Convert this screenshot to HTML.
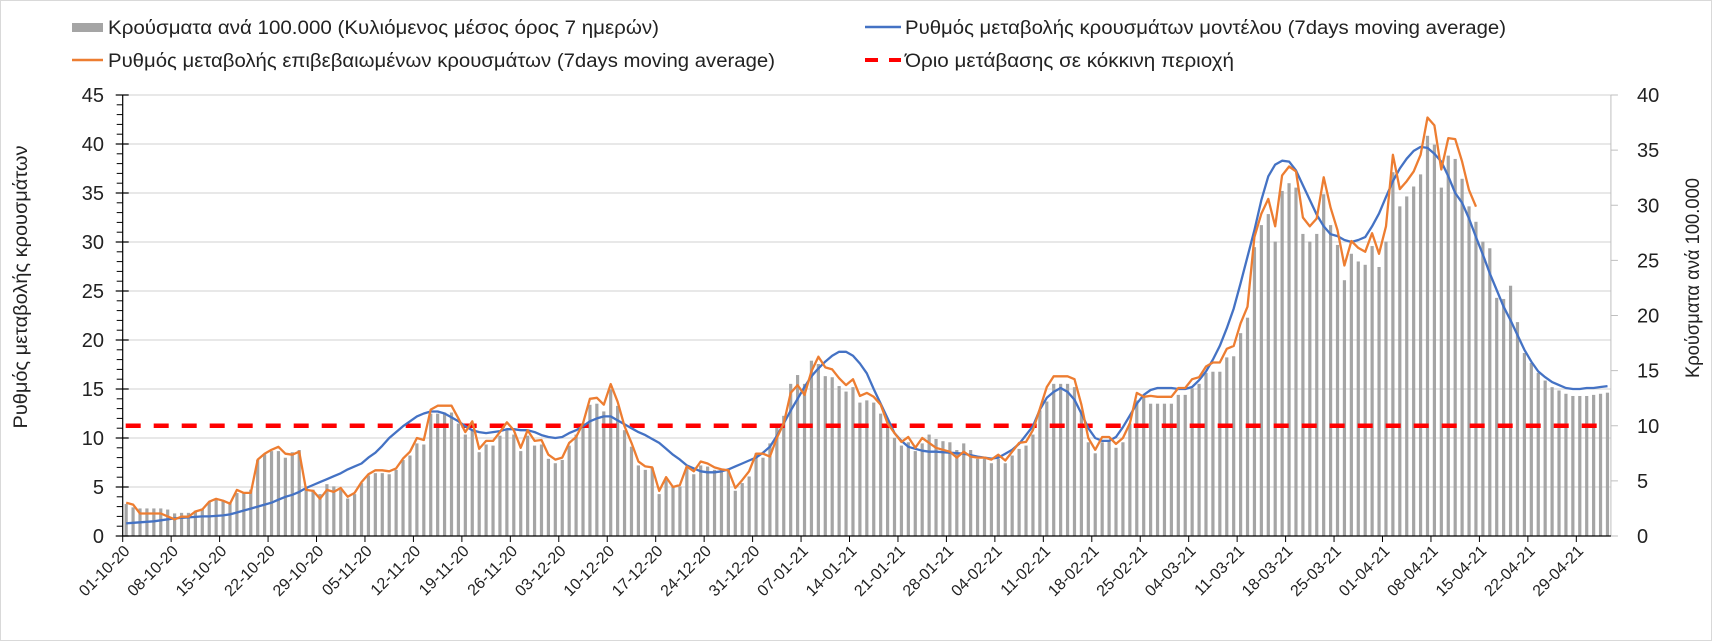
<!DOCTYPE html>
<html><head><meta charset="utf-8"><style>
html,body{margin:0;padding:0;background:#fff}
svg{display:block;font-family:"Liberation Sans",sans-serif}
</style></head><body>
<svg id="chart" width="1712" height="641" viewBox="0 0 1712 641" xmlns="http://www.w3.org/2000/svg">
<rect x="0.5" y="0.5" width="1711" height="640" fill="#fff" stroke="#d9d9d9"/>
<g id="grid"></g>
<g id="bars"></g>
<g id="lines"></g>
<g id="axes"></g>
<g>
  <g>
    <rect x="72" y="23" width="31" height="9" fill="#a5a5a5"/>
    <text x="108" y="34" font-size="19" textLength="551" lengthAdjust="spacingAndGlyphs" fill="#222">Κρούσματα ανά 100.000 (Κυλιόμενος μέσος όρος 7 ημερών)</text>
  </g>
  <g>
    <line x1="865" y1="27" x2="901" y2="27" stroke="#4472c4" stroke-width="2.5"/>
    <text x="905" y="34" font-size="19" textLength="601" lengthAdjust="spacingAndGlyphs" fill="#222">Ρυθμός μεταβολής κρουσμάτων μοντέλου (7days moving average)</text>
  </g>
  <g>
    <line x1="72" y1="60" x2="103" y2="60" stroke="#ed7d31" stroke-width="2.5"/>
    <text x="108" y="67" font-size="19" textLength="667" lengthAdjust="spacingAndGlyphs" fill="#222">Ρυθμός μεταβολής επιβεβαιωμένων κρουσμάτων (7days moving average)</text>
  </g>
  <g>
    <line x1="865" y1="60" x2="901" y2="60" stroke="#ff0000" stroke-width="4" stroke-dasharray="13,11"/>
    <text x="905" y="67" font-size="19" textLength="329" lengthAdjust="spacingAndGlyphs" fill="#222">Όριο μετάβασης σε κόκκινη περιοχή</text>
  </g>
</g>
<text transform="translate(27,287) rotate(-90)" text-anchor="middle" font-size="19" textLength="283" lengthAdjust="spacingAndGlyphs" fill="#222">Ρυθμός μεταβολής κρουσμάτων</text>
<text transform="translate(1699,278) rotate(-90)" text-anchor="middle" font-size="19" textLength="200" lengthAdjust="spacingAndGlyphs" fill="#222">Κρούσματα ανά 100.000</text>
</svg>
<script>
const xLabels = ["01-10-20","08-10-20","15-10-20","22-10-20","29-10-20","05-11-20","12-11-20","19-11-20","26-11-20","03-12-20","10-12-20","17-12-20","24-12-20","31-12-20","07-01-21","14-01-21","21-01-21","28-01-21","04-02-21","11-02-21","18-02-21","25-02-21","04-03-21","11-03-21","18-03-21","25-03-21","01-04-21","08-04-21","15-04-21","22-04-21","29-04-21"];
const leftTicks = [0,5,10,15,20,25,30,35,40,45];
const rightTicks = [0,5,10,15,20,25,30,35,40];
const redThreshold = 10;
const casesPer100k = [2.9,2.6,2.5,2.5,2.5,2.5,2.4,2.05,2.1,2.1,2.3,2.5,3.1,3.3,3.2,3.0,3.9,3.9,4.2,
6.9,7.4,7.7,7.7,7.1,7.6,7.8,4.5,4.2,3.8,4.7,4.5,4.2,3.4,3.8,4.8,5.5,5.7,5.7,5.6,6.0,6.9,7.3,8.4,8.3,11.1,11.1,11.2,11.2,10.2,9.2,9.6,7.6,8.3,8.2,9.1,9.6,9.2,7.7,9.1,8.2,8.3,7.0,6.6,6.9,8.2,
9.2,10.0,11.9,12.0,11.3,13.3,11.8,9.6,8.1,6.4,6.0,6.2,3.8,5.1,4.5,4.5,6.3,5.6,6.4,6.3,6.0,6.0,6.0,4.1,4.8,5.4,7.5,7.1,8.4,9.8,10.9,13.8,14.6,13.8,15.9,15.6,14.5,14.4,13.6,13.1,13.5,12.1,12.3,12.1,11.1,10.0,8.9,8.2,8.5,7.7,8.4,9.2,8.8,8.6,8.5,7.8,8.4,7.8,7.0,7.0,6.6,7.0,6.6,7.3,7.9,
8.2,9.2,11.4,12.2,13.8,13.8,13.8,13.5,11.4,8.5,7.5,8.5,8.7,8.0,8.5,10.2,12.3,12.7,12.0,12.0,12.0,12.0,12.8,12.8,13.4,13.8,14.8,14.9,14.9,16.2,16.3,18.4,19.8,26.2,28.2,29.2,26.7,31.3,32.0,31.6,27.4,26.7,27.4,31.0,28.2,26.4,23.2,25.6,24.9,24.6,26.3,24.4,26.7,33.0,29.9,30.8,31.7,32.8,36.3,35.5,31.6,34.5,34.2,32.4,29.9,28.5,
26.7,26.1,21.6,21.5,22.7,19.4,16.6,15.7,14.8,14.1,13.5,13.2,12.9,12.7,12.7,12.7,12.8,12.9,13.0];
const confirmedRate = [3.4,3.2,2.3,2.3,2.3,2.3,2.0,1.7,1.97,1.97,2.5,2.7,3.5,3.8,3.6,3.3,4.7,4.4,4.4,
7.8,8.4,8.8,9.1,8.4,8.3,8.6,4.7,4.6,3.8,4.7,4.5,4.9,4.0,4.4,5.5,6.3,6.7,6.7,6.6,6.9,7.9,8.6,10.0,9.8,12.9,13.3,13.3,13.3,12.0,10.6,11.7,8.9,9.7,9.7,10.6,11.6,10.8,9.0,10.8,9.7,9.8,8.3,7.8,8.0,9.5,
10.1,11.5,14.0,14.1,13.4,15.5,13.7,11.2,9.5,7.6,7.1,7.0,4.6,6.0,5.0,5.2,7.1,6.6,7.6,7.4,7.0,6.8,6.7,4.9,5.7,6.6,8.4,8.4,8.1,10.0,11.5,14.6,15.4,14.4,16.8,18.3,17.2,17.0,16.1,15.4,16.0,14.3,14.6,14.2,13.4,11.5,10.5,9.6,10.1,9.0,10.0,9.5,9.0,8.8,8.6,8.0,8.6,8.1,8.0,8.0,7.8,8.3,7.7,8.6,9.5,
9.6,10.8,13.0,15.2,16.3,16.3,16.3,16.0,13.4,10.0,8.8,10.1,10.1,9.4,10.0,11.5,14.6,14.2,14.3,14.2,14.2,14.2,15.1,15.1,16.0,16.2,17.3,17.7,17.7,19.1,19.4,21.7,23.4,30.5,32.9,34.4,31.6,36.8,37.7,37.2,32.5,31.6,32.4,36.6,33.5,31.2,27.6,30.1,29.4,29.0,30.9,28.8,31.6,38.9,35.4,36.2,37.2,38.9,42.7,41.9,37.4,40.6,40.5,38.2,35.3,33.6];
const modelRate = [1.3,1.35,1.4,1.45,1.5,1.6,1.7,1.8,1.85,1.9,1.95,2.0,2.0,2.05,2.1,2.2,2.4,2.6,2.8,3.0,3.2,3.4,
3.7,4.0,4.2,4.5,4.9,5.2,5.5,5.8,6.1,6.4,6.8,7.1,7.4,8.0,8.5,9.2,10.0,10.6,11.2,11.7,12.2,12.5,12.7,12.7,12.5,12.1,11.7,11.2,10.8,10.6,10.5,10.6,10.7,10.9,10.9,10.8,10.8,10.6,10.3,10.1,10.0,10.1,10.5,
10.8,11.2,11.7,12.0,12.2,12.2,11.8,11.4,11.0,10.6,10.3,9.9,9.5,8.9,8.3,7.8,7.2,6.9,6.6,6.5,6.5,6.6,6.8,7.1,7.4,7.7,8.0,8.5,9.1,10.2,11.5,12.8,14.0,15.2,16.3,17.1,17.8,18.4,18.8,18.8,18.4,17.6,16.6,15.0,13.5,12.0,10.5,9.7,9.1,8.9,8.7,8.6,8.6,8.55,8.5,8.45,8.4,8.25,8.1,8.0,7.9,8.0,8.4,8.8,9.4,
10.3,11.2,12.9,14.1,14.7,15.1,14.7,13.9,12.5,11.0,10.0,9.7,9.7,10.1,11.1,12.3,13.5,14.4,14.9,15.1,15.1,15.1,15.0,15.0,15.2,15.9,16.8,18.0,19.4,21.2,23.2,25.8,28.5,31.2,34.3,36.7,37.9,38.3,38.2,37.3,35.8,34.3,32.8,31.6,30.8,30.6,30.2,30.0,30.2,30.5,31.6,32.9,34.6,36.2,37.5,38.5,39.3,39.7,39.6,39.0,38.2,36.7,35.0,34.0,32.4,30.5,
28.7,26.8,25.1,23.4,22.0,20.5,19.0,17.8,16.8,16.2,15.7,15.4,15.1,15.0,15.0,15.1,15.1,15.2,15.3];

const NS = "http://www.w3.org/2000/svg";
const X0 = 122.7, DAY = 6.922, NDAYS = 215, BASE = 536;
const xCat = i => X0 + DAY * (i + 0.5);
const xTick = i => X0 + DAY * i;
const yL = v => BASE - v * 9.8;
const yR = v => BASE - v * 11.025;
function mk(tag, attrs, parent) {
  const e = document.createElementNS(NS, tag);
  for (const k in attrs) e.setAttribute(k, attrs[k]);
  parent.appendChild(e);
  return e;
}
const grid = document.getElementById('grid');
const bars = document.getElementById('bars');
const lines = document.getElementById('lines');
const axes = document.getElementById('axes');
const xEnd = X0 + DAY * NDAYS;

leftTicks.forEach(v => {
  if (v > 0) {
    const g = mk('line', {x1: X0, x2: xEnd, y1: yL(v), y2: yL(v), stroke: '#d9d9d9', 'stroke-width': 1.3}, grid);
    
    
  }
  const t = mk('text', {x: 104, y: yL(v) + 7, 'text-anchor': 'end', 'font-size': 20, fill: '#222'}, axes);
  t.textContent = v;
  
  
  mk('line', {x1: X0 - 7, x2: X0 + 6, y1: yL(v), y2: yL(v), stroke: '#000', 'stroke-width': 1.2}, axes);
});
for (let v = 1; v < 45; v++) {
  if (v % 5) mk('line', {x1: X0 - 6, x2: X0, y1: yL(v), y2: yL(v), stroke: '#000', 'stroke-width': 1}, axes);
}
rightTicks.forEach(v => {
  const t = mk('text', {x: 1637, y: yR(v) + 7, 'font-size': 20, fill: '#222'}, axes);
  t.textContent = v;
  
  
  mk('line', {x1: xEnd, x2: xEnd + 7, y1: yR(v), y2: yR(v), stroke: '#bfbfbf', 'stroke-width': 1}, axes);
});
mk('line', {x1: xEnd, x2: xEnd, y1: yR(40), y2: BASE, stroke: '#bfbfbf', 'stroke-width': 1}, axes);

casesPer100k.forEach((v, i) => {
  const b = mk('rect', {x: xCat(i) - 1.6, y: yR(v), width: 3.2, height: BASE - yR(v), fill: '#a5a5a5'}, bars);
  
  
});

const red = mk('line', {x1: X0 + 3, x2: xEnd - 3, y1: yR(redThreshold), y2: yR(redThreshold), stroke: '#ff0000', 'stroke-width': 4.5, 'stroke-dasharray': '15,13'}, lines);



function poly(arr, color, name) {
  const pts = arr.map((v, i) => xCat(i).toFixed(1) + ',' + yL(v).toFixed(1)).join(' ');
  const p = mk('polyline', {points: pts, fill: 'none', stroke: color, 'stroke-width': 2.3, 'stroke-linejoin': 'round'}, lines);
  
  
}
poly(modelRate, '#4472c4', 'model-rate-line');
poly(confirmedRate, '#ed7d31', 'confirmed-rate-line');

mk('line', {x1: X0, x2: X0, y1: yL(45), y2: BASE, stroke: '#000', 'stroke-width': 1.2}, axes);
mk('line', {x1: X0, x2: xEnd, y1: BASE, y2: BASE, stroke: '#000', 'stroke-width': 1.2}, axes);
for (let i = 0; i <= NDAYS; i += 7) {
  mk('line', {x1: xTick(i), x2: xTick(i), y1: BASE, y2: BASE + 6, stroke: '#000', 'stroke-width': 1}, axes);
}
xLabels.forEach((s, k) => {
  const x = xTick(k * 7) + 8, y = BASE + 16;
  const t = mk('text', {x: x, y: y, 'text-anchor': 'end', 'font-size': 16, fill: '#222', transform: 'rotate(-45 ' + x + ' ' + y + ')'}, axes);
  t.textContent = s;
  
  
});
</script>
</body></html>
